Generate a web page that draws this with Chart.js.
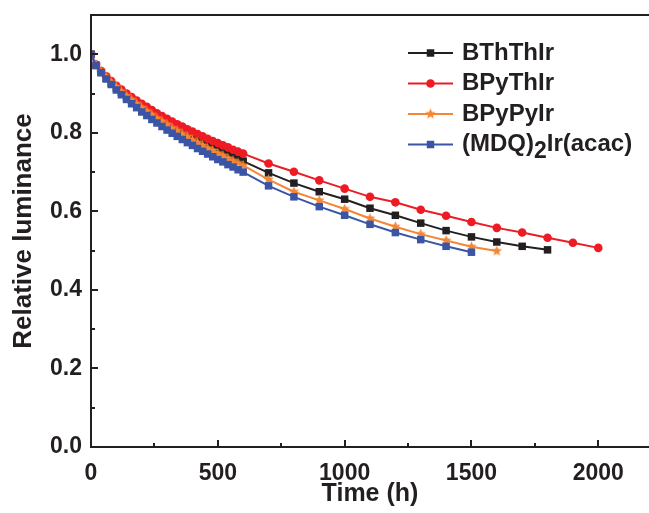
<!DOCTYPE html>
<html lang="en">
<head>
<meta charset="UTF-8" />
<title>Relative luminance vs time</title>
<script src="https://cdn.jsdelivr.net/npm/chart.js"></script>
<style>
  html, body { margin: 0; padding: 0; background: #fff; }
  canvas { display: block; }
</style>
</head>
<body>
<canvas id="chart" width="649" height="513"></canvas>
<script>
  // time axis (h): dense early readings, then every 100 h
  const hoursDense = [0, 20, 40, 60, 80, 100, 120, 140, 160, 180, 200, 220, 240, 260, 280, 300,
    320, 340, 360, 380, 400, 420, 440, 460, 480, 500, 520, 540, 560, 580, 600];
  const hoursLate = [700, 800, 900, 1000, 1100, 1200, 1300, 1400, 1500, 1600, 1700, 1800, 1900, 2000];

  const seriesNames = ['BThThIr', 'BPyThIr', 'BPyPyIr', '(MDQ)2Ir(acac)'];

  const bththDense = [1.000, 0.972, 0.954, 0.939, 0.926, 0.914, 0.903, 0.892, 0.883, 0.873, 0.864,
    0.855, 0.847, 0.839, 0.831, 0.823, 0.816, 0.808, 0.801, 0.795, 0.788, 0.781, 0.775, 0.769,
    0.762, 0.756, 0.751, 0.745, 0.739, 0.733, 0.728];
  const bththLate = [0.698, 0.672, 0.650, 0.631, 0.608, 0.590, 0.570, 0.551, 0.535, 0.522, 0.511, 0.502];

  const bpythDense = [1.000, 0.974, 0.957, 0.944, 0.932, 0.920, 0.910, 0.900, 0.891, 0.882, 0.874,
    0.866, 0.858, 0.850, 0.843, 0.836, 0.829, 0.822, 0.816, 0.809, 0.803, 0.797, 0.791, 0.785,
    0.779, 0.774, 0.768, 0.763, 0.757, 0.752, 0.747];
  const bpythLate = [0.722, 0.701, 0.679, 0.658, 0.637, 0.623, 0.604, 0.589, 0.573, 0.558, 0.546,
    0.533, 0.520, 0.507];

  const bpypyDense = [1.000, 0.974, 0.957, 0.943, 0.929, 0.917, 0.905, 0.894, 0.884, 0.874, 0.864,
    0.855, 0.846, 0.837, 0.829, 0.821, 0.812, 0.805, 0.797, 0.790, 0.782, 0.775, 0.768, 0.761,
    0.755, 0.748, 0.742, 0.735, 0.729, 0.723, 0.717];
  const bpypyLate = [0.681, 0.650, 0.628, 0.606, 0.582, 0.561, 0.542, 0.526, 0.510, 0.499];

  const mdqDense = [1.000, 0.971, 0.953, 0.937, 0.923, 0.909, 0.897, 0.885, 0.874, 0.864, 0.853,
    0.844, 0.834, 0.825, 0.816, 0.807, 0.799, 0.791, 0.783, 0.775, 0.768, 0.760, 0.753, 0.746,
    0.739, 0.732, 0.726, 0.719, 0.713, 0.706, 0.700];
  const mdqLate = [0.665, 0.637, 0.612, 0.590, 0.567, 0.546, 0.528, 0.511, 0.496];

  const xTicks = [0, 500, 1000, 1500, 2000];
  const yTicks = [0.0, 0.2, 0.4, 0.6, 0.8, 1.0];

  const ink = '#231f20';
  const colors = ['#231f20', '#ed1c24', '#f58634', '#3a55a5'];
  const fontFamily = "'Liberation Sans', Arial, Helvetica, sans-serif";

  function toPoints(dense, late) {
    const pts = dense.map((v, i) => ({ x: hoursDense[i], y: v }));
    late.forEach((v, i) => pts.push({ x: hoursLate[i], y: v }));
    return pts;
  }

  // filled star marker (chart.js 'star' is only an asterisk)
  function makeStar(r, color) {
    const c = document.createElement('canvas');
    c.width = c.height = Math.ceil(r * 2) + 2;
    const g = c.getContext('2d');
    const m = c.width / 2;
    g.beginPath();
    for (let i = 0; i < 10; i++) {
      const rad = i % 2 ? r * 0.45 : r;
      const ang = -Math.PI / 2 + i * Math.PI / 5;
      g.lineTo(m + rad * Math.cos(ang), m + rad * Math.sin(ang));
    }
    g.closePath();
    g.fillStyle = color;
    g.fill();
    return c;
  }
  const star = makeStar(5.5, colors[2]);

  const styles = [
    { pointStyle: 'rect', radius: 5.3 },
    { pointStyle: 'circle', radius: 4.3 },
    { pointStyle: star, radius: 5.5 },
    { pointStyle: 'rect', radius: 5.3 }
  ];
  const allData = [
    toPoints(bththDense, bththLate),
    toPoints(bpythDense, bpythLate),
    toPoints(bpypyDense, bpypyLate),
    toPoints(mdqDense, mdqLate)
  ];

  const datasets = allData.map((d, i) => ({
    label: seriesNames[i],
    data: d,
    showLine: true,
    borderColor: colors[i],
    backgroundColor: colors[i],
    borderWidth: 2,
    pointStyle: styles[i].pointStyle,
    pointRadius: styles[i].radius,
    pointBorderWidth: 0,
    tension: 0,
    order: 3 - i
  }));

  // open frame (right side falls off the picture) + inward ticks
  const frameTicks = {
    id: 'frameTicks',
    afterDatasetsDraw(chart) {
      const { ctx, chartArea: a, scales: { x, y } } = chart;
      ctx.save();
      ctx.strokeStyle = ink;
      ctx.lineWidth = 2;
      ctx.beginPath();
      ctx.moveTo(chart.width + 2, a.top);
      ctx.lineTo(a.left, a.top);
      ctx.lineTo(a.left, a.bottom);
      ctx.lineTo(chart.width + 2, a.bottom);
      for (let i = 0; i <= 8; i++) {
        const px = Math.round(x.getPixelForValue(i * 250));
        const len = i % 2 === 0 ? 7 : 4;
        ctx.moveTo(px, a.bottom);
        ctx.lineTo(px, a.bottom - len);
      }
      for (let i = 0; i <= 10; i++) {
        const py = Math.round(y.getPixelForValue(i / 10));
        const len = i % 2 === 0 ? 7 : 4;
        ctx.moveTo(a.left, py);
        ctx.lineTo(a.left + len, py);
      }
      ctx.stroke();
      ctx.restore();
    }
  };

  // legend drawn by hand so the subscript 2 can be lowered
  const legendBox = {
    id: 'legendBox',
    afterDraw(chart) {
      const { ctx, chartArea: a } = chart;
      const x0 = 408, x1 = 453, tx = 462;
      ctx.save();
      seriesNames.forEach((name, i) => {
        const yy = a.top + 38 + i * 30.5;
        ctx.strokeStyle = colors[i];
        ctx.fillStyle = colors[i];
        ctx.lineWidth = 2;
        ctx.beginPath();
        ctx.moveTo(x0, yy);
        ctx.lineTo(x1, yy);
        ctx.stroke();
        Chart.helpers.drawPoint(ctx, {
          pointStyle: styles[i].pointStyle, radius: styles[i].radius,
          rotation: 0, borderWidth: 0
        }, (x0 + x1) / 2, yy);
        ctx.fillStyle = ink;
        ctx.textBaseline = 'middle';
        ctx.textAlign = 'left';
        const m = name.match(/^(.*\))(\d)(.*)$/);
        ctx.font = 'bold 24px ' + fontFamily;
        if (m) {
          let cx = tx;
          ctx.fillText(m[1], cx, yy);
          cx += ctx.measureText(m[1]).width;
          ctx.font = 'bold 23px ' + fontFamily;
          ctx.fillText(m[2], cx, yy + 7);
          cx += ctx.measureText(m[2]).width;
          ctx.font = 'bold 24px ' + fontFamily;
          ctx.fillText(m[3], cx, yy);
        } else {
          ctx.fillText(name, tx, yy);
        }
      });
      ctx.restore();
    }
  };

  const tickFont = { family: fontFamily, size: 23, weight: 'bold' };

  new Chart(document.getElementById('chart').getContext('2d'), {
    type: 'scatter',
    data: { datasets },
    options: {
      responsive: false,
      animation: false,
      layout: { autoPadding: false, padding: { top: 15, right: 0, left: 0, bottom: 0 } },
      plugins: { legend: { display: false }, tooltip: { enabled: false } },
      scales: {
        x: {
          type: 'linear', min: 0, max: 2200,
          afterFit(s) { s.height = 66; s.paddingRight = 0; s.paddingLeft = 0; },
          afterBuildTicks(s) { s.ticks = xTicks.map(v => ({ value: v })); },
          border: { display: false },
          grid: { display: false, drawTicks: false },
          ticks: { color: ink, font: tickFont, padding: 13, maxRotation: 0, autoSkip: false, callback: v => String(v) },
          title: { display: true, text: 'Time (h)', color: ink, font: { family: fontFamily, size: 25, weight: 'bold' }, padding: { top: 0, bottom: 4 } }
        },
        y: {
          type: 'linear', min: 0, max: 1.1,
          afterFit(s) { s.width = 91; s.paddingTop = 0; s.paddingBottom = 0; },
          afterBuildTicks(s) { s.ticks = yTicks.map(v => ({ value: v })); },
          border: { display: false },
          grid: { display: false, drawTicks: false },
          ticks: { color: ink, font: tickFont, padding: 9, callback: v => v.toFixed(1) },
          title: { display: true, text: 'Relative luminance', color: ink, font: { family: fontFamily, size: 26, weight: 'bold' }, padding: { top: 8, bottom: 0 } }
        }
      }
    },
    plugins: [frameTicks, legendBox]
  });
</script>
</body>
</html>
